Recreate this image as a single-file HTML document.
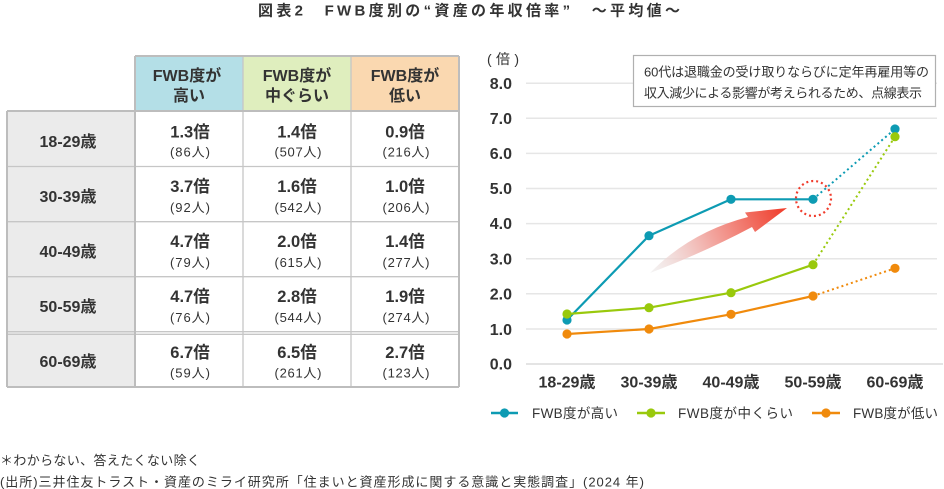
<!DOCTYPE html>
<html><head><meta charset="utf-8"><style>
html,body{margin:0;padding:0;background:#fff;}
svg{display:block;}
text{font-family:"Liberation Sans","Noto Sans CJK JP",sans-serif;fill:#333;}
.b{font-weight:bold;}
.sub{fill:#8c99a8;font-size:13px;}
</style></head><body>
<svg width="944" height="489" viewBox="0 0 944 489" xmlns="http://www.w3.org/2000/svg">
<defs>
<linearGradient id="ag" gradientUnits="userSpaceOnUse" x1="650" y1="272" x2="787" y2="208">
<stop offset="0" stop-color="#ececec" stop-opacity="0.6"/>
<stop offset="0.45" stop-color="#f2aaa4"/>
<stop offset="1" stop-color="#f03a28"/>
</linearGradient>
</defs>

<!-- Title -->
<text x="258" y="15.5" class="b" font-size="15" textLength="422" lengthAdjust="spacing">図表2　FWB度別の“資産の年収倍率”　～平均値～</text>

<!-- Table -->
<rect x="135" y="56" width="108" height="55" fill="#b4dfe7"/>
<rect x="243" y="56" width="108" height="55" fill="#dfeebe"/>
<rect x="351" y="56" width="108" height="55" fill="#fad8b0"/>
<rect x="7" y="111" width="128" height="276" fill="#ebebeb"/>
<g stroke="#c6c6c6" stroke-width="1.3" fill="none">
<line x1="7" y1="166.5" x2="459" y2="166.5"/>
<line x1="7" y1="221.7" x2="459" y2="221.7"/>
<line x1="7" y1="276.7" x2="459" y2="276.7"/>
<line x1="7" y1="331.7" x2="459" y2="331.7"/>
<line x1="7" y1="334.3" x2="459" y2="334.3"/>
<line x1="243" y1="56" x2="243" y2="387"/>
<line x1="351" y1="56" x2="351" y2="387"/>
</g>
<g stroke="#bdbdbd" stroke-width="2" fill="none">
<line x1="135" y1="56" x2="459" y2="56"/>
<line x1="135" y1="56" x2="135" y2="387"/>
<line x1="459" y1="56" x2="459" y2="387"/>
<line x1="7" y1="111" x2="459" y2="111"/>
<line x1="7" y1="111" x2="7" y2="387"/>
<line x1="7" y1="387" x2="459" y2="387"/>
</g>

<g class="b" font-size="16" text-anchor="middle">
<text x="187" y="81">FWB度が</text><text x="189" y="101">高い</text>
<text x="297" y="81">FWB度が</text><text x="297" y="101">中ぐらい</text>
<text x="405" y="81">FWB度が</text><text x="405" y="101">低い</text>
</g>

<g class="b" font-size="16" text-anchor="middle">
<text x="68" y="147">18-29歳</text>
<text x="68" y="202">30-39歳</text>
<text x="68" y="257">40-49歳</text>
<text x="68" y="312">50-59歳</text>
<text x="68" y="367">60-69歳</text>
</g>

<g class="b" font-size="16.5" text-anchor="middle">
<text x="190" y="137.5">1.3倍</text><text x="297" y="137.5">1.4倍</text><text x="405" y="137.5">0.9倍</text>
<text x="190" y="192">3.7倍</text><text x="297" y="192">1.6倍</text><text x="405" y="192">1.0倍</text>
<text x="190" y="247">4.7倍</text><text x="297" y="247">2.0倍</text><text x="405" y="247">1.4倍</text>
<text x="190" y="302">4.7倍</text><text x="297" y="302">2.8倍</text><text x="405" y="302">1.9倍</text>
<text x="190" y="358">6.7倍</text><text x="297" y="358">6.5倍</text><text x="405" y="358">2.7倍</text>
</g>
<g class="sub" text-anchor="middle">
<text x="190" y="156.5" textLength="40" lengthAdjust="spacing">(86人)</text><text x="298" y="156.5" textLength="47" lengthAdjust="spacing">(507人)</text><text x="406" y="156.5" textLength="47" lengthAdjust="spacing">(216人)</text>
<text x="190" y="212" textLength="40" lengthAdjust="spacing">(92人)</text><text x="298" y="212" textLength="47" lengthAdjust="spacing">(542人)</text><text x="406" y="212" textLength="47" lengthAdjust="spacing">(206人)</text>
<text x="190" y="267" textLength="40" lengthAdjust="spacing">(79人)</text><text x="298" y="267" textLength="47" lengthAdjust="spacing">(615人)</text><text x="406" y="267" textLength="47" lengthAdjust="spacing">(277人)</text>
<text x="190" y="322" textLength="40" lengthAdjust="spacing">(76人)</text><text x="298" y="322" textLength="47" lengthAdjust="spacing">(544人)</text><text x="406" y="322" textLength="47" lengthAdjust="spacing">(274人)</text>
<text x="190" y="377.5" textLength="40" lengthAdjust="spacing">(59人)</text><text x="298" y="377.5" textLength="47" lengthAdjust="spacing">(261人)</text><text x="406" y="377.5" textLength="47" lengthAdjust="spacing">(123人)</text>
</g>

<!-- Chart gridlines -->
<g stroke="#e6e6e6" stroke-width="1.5">
<line x1="526" y1="83.3" x2="937" y2="83.3"/>
<line x1="526" y1="118.3" x2="937" y2="118.3"/>
<line x1="526" y1="153.4" x2="937" y2="153.4"/>
<line x1="526" y1="188.5" x2="937" y2="188.5"/>
<line x1="526" y1="223.6" x2="937" y2="223.6"/>
<line x1="526" y1="258.7" x2="937" y2="258.7"/>
<line x1="526" y1="293.8" x2="937" y2="293.8"/>
<line x1="526" y1="329" x2="937" y2="329"/>
</g>
<line x1="526" y1="364" x2="943" y2="364" stroke="#dcdcdc" stroke-width="1.5"/>

<text x="487" y="64" font-size="14" textLength="32" lengthAdjust="spacing">(倍)</text>
<g class="b" font-size="16" text-anchor="end">
<text x="512" y="89">8.0</text>
<text x="512" y="124">7.0</text>
<text x="512" y="159">6.0</text>
<text x="512" y="194">5.0</text>
<text x="512" y="229">4.0</text>
<text x="512" y="264.5">3.0</text>
<text x="512" y="299.5">2.0</text>
<text x="512" y="335">1.0</text>
<text x="512" y="369.5">0.0</text>
</g>
<g class="b" font-size="16" text-anchor="middle">
<text x="567" y="387.5">18-29歳</text>
<text x="649" y="387.5">30-39歳</text>
<text x="731" y="387.5">40-49歳</text>
<text x="813" y="387.5">50-59歳</text>
<text x="895" y="387.5">60-69歳</text>
</g>

<!-- Callout -->
<rect x="633.5" y="55.5" width="302" height="51" fill="#fff" stroke="#b0b0b0" stroke-width="1.2"/>
<text x="644" y="76.5" font-size="13" textLength="285" lengthAdjust="spacing">60代は退職金の受け取りならびに定年再雇用等の</text>
<text x="644" y="97.5" font-size="13" textLength="278" lengthAdjust="spacing">収入減少による影響が考えられるため、点線表示</text>

<!-- Arrow -->
<path d="M650,273 Q690,232 748,217 L745,212.5 L787,208 L755,232 L752,227 Q705,252 650,273 Z" fill="url(#ag)"/>

<!-- Series -->
<g fill="none" stroke-width="2.2" stroke-linejoin="round">
<polyline points="567,320 649,235.7 731,199.3 813,199.3" stroke="#0d9bb3"/>
<polyline points="567,314 649,307.7 731,292.7 813,264.7" stroke="#99c90c"/>
<polyline points="567,334 649,329 731,314.3 813,296" stroke="#f08a0c"/>
</g>
<g fill="none" stroke-width="2" stroke-dasharray="2 3">
<line x1="813" y1="199.3" x2="895" y2="129" stroke="#0d9bb3"/>
<line x1="813" y1="264.7" x2="895" y2="136.7" stroke="#99c90c"/>
<line x1="813" y1="296" x2="895" y2="268.3" stroke="#f08a0c"/>
</g>
<g fill="#0d9bb3">
<circle cx="567" cy="320" r="4.6"/><circle cx="649" cy="235.7" r="4.6"/><circle cx="731" cy="199.3" r="4.6"/><circle cx="813" cy="199.3" r="4.6"/><circle cx="895" cy="129" r="4.6"/>
</g>
<g fill="#99c90c">
<circle cx="567" cy="314" r="4.6"/><circle cx="649" cy="307.7" r="4.6"/><circle cx="731" cy="292.7" r="4.6"/><circle cx="813" cy="264.7" r="4.6"/><circle cx="895" cy="136.7" r="4.6"/>
</g>
<g fill="#f08a0c">
<circle cx="567" cy="334" r="4.6"/><circle cx="649" cy="329" r="4.6"/><circle cx="731" cy="314.3" r="4.6"/><circle cx="813" cy="296" r="4.6"/><circle cx="895" cy="268.3" r="4.6"/>
</g>

<!-- red dotted circle -->
<circle cx="813.5" cy="198.5" r="17.5" fill="none" stroke="#f03c2c" stroke-width="2.2" stroke-dasharray="2 3"/>

<!-- Legend -->
<line x1="491" y1="413" x2="518" y2="413" stroke="#0d9bb3" stroke-width="2.5"/>
<circle cx="504.5" cy="413" r="4.6" fill="#0d9bb3"/>
<text x="532" y="418" font-size="13.5" textLength="86" lengthAdjust="spacing">FWB度が高い</text>
<line x1="637" y1="413" x2="665" y2="413" stroke="#99c90c" stroke-width="2.5"/>
<circle cx="651" cy="413" r="4.6" fill="#99c90c"/>
<text x="678" y="418" font-size="13.5" textLength="115" lengthAdjust="spacing">FWB度が中くらい</text>
<line x1="812" y1="413" x2="840" y2="413" stroke="#f08a0c" stroke-width="2.5"/>
<circle cx="826" cy="413" r="4.6" fill="#f08a0c"/>
<text x="853" y="418" font-size="13.5" textLength="85" lengthAdjust="spacing">FWB度が低い</text>

<!-- Footer -->
<text x="0" y="465" font-size="13" textLength="200" lengthAdjust="spacing">＊わからない、答えたくない除く</text>
<text x="0" y="486.5" font-size="13" textLength="644" lengthAdjust="spacing">(出所)三井住友トラスト・資産のミライ研究所「住まいと資産形成に関する意識と実態調査」(2024 年)</text>
</svg>
</body></html>
